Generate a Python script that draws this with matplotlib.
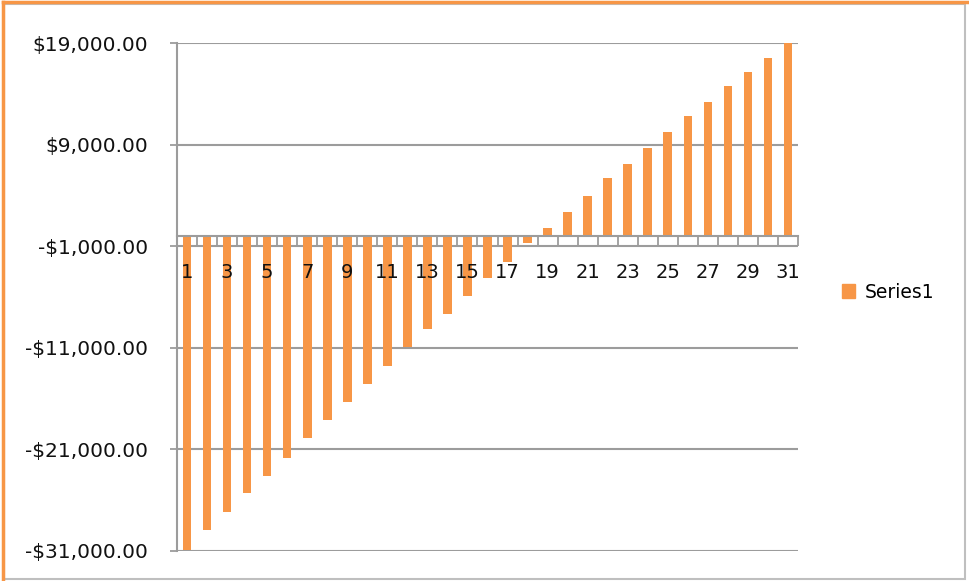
import matplotlib.pyplot as plt
import numpy as np
from matplotlib.patches import Rectangle
from matplotlib.lines import Line2D
from matplotlib.ticker import FuncFormatter, MultipleLocator, FixedLocator

categories = list(range(1, 32))
series1 = [
    -30930, -28960, -27160, -25350, -23610, -21830, -19860, -18090,
    -16310, -14540, -12770, -10960, -9190, -7640, -5870, -4100,
    -2520, -710, 770, 2400, 3980, 5760, 7100, 8680,
    10260, 11840, 13250, 14790, 16200, 17550, 19000,
]
y_ticks = [-31000, -21000, -11000, -1000, 9000, 19000]

BAR = "#F79646"
GRID = "#9C9C9C"

W, H = 969, 581
fig = plt.figure(figsize=(W / 100, H / 100), dpi=100)
plt.rcParams["font.family"] = ["DejaVu Sans"]

ax = fig.add_axes([177 / W, 1 - 550.7 / H, (798 - 177) / W, (550.7 - 43.3) / H])
ax.set_axisbelow(True)

x = np.array(categories)
ax.bar(x, series1, width=0.43, color=BAR, zorder=2)

ax.set_xlim(0.5, 31.5)
ax.set_ylim(-31000, 19000)

# y axis
ax.yaxis.set_major_locator(FixedLocator(y_ticks))
ax.yaxis.set_major_formatter(
    FuncFormatter(lambda v, p: ("-" if v < 0 else "") + "${:,.2f}".format(abs(v)))
)
ax.tick_params(axis="y", direction="out", length=5, width=1.3, color=GRID,
               labelsize=14.5, labelcolor="#111111", pad=16)
ax.grid(axis="y", color=GRID, linewidth=1.5)

# x axis sits at zero, tick marks between categories
ax.spines["bottom"].set_position(("data", 0))
ax.xaxis.set_major_locator(MultipleLocator(1, offset=0.5))
ax.tick_params(axis="x", direction="out", length=7.2, width=1.3, color=GRID,
               labelbottom=False)
for s in ["top", "right"]:
    ax.spines[s].set_visible(False)
for s in ["left", "bottom"]:
    ax.spines[s].set_color(GRID)
    ax.spines[s].set_linewidth(1.5)

# category labels (every other one), drawn over the bars
for c in categories[::2]:
    ax.annotate(str(c), xy=(c, 0), xytext=(0, -36), textcoords="offset pixels",
                ha="center", va="center", fontsize=14, color="#111111", zorder=5)

# legend
handle = Rectangle((0, 0), 1, 1, color=BAR)
fig.legend([handle], ["Series1"], loc="center left",
           bbox_to_anchor=(825 / W, 1 - 292 / H), frameon=False,
           fontsize=13.5, handlelength=0.7, handleheight=0.7, handletextpad=0.5)

# chart frame
fig.patches.append(Rectangle((4 / W, 2 / H), (965 - 4) / W, (577 - 2) / H,
                             transform=fig.transFigure, fill=False,
                             edgecolor="#BFBFBF", linewidth=1.5))
fig.lines.append(Line2D([2.5 / W, 2.5 / W], [0, 1 - 2 / H], transform=fig.transFigure,
                        color=BAR, linewidth=2.5))
fig.lines.append(Line2D([2.5 / W, 1], [1 - 2 / H, 1 - 2 / H], transform=fig.transFigure,
                        color=BAR, linewidth=2.5))

fig.savefig("out.png", dpi=100)
